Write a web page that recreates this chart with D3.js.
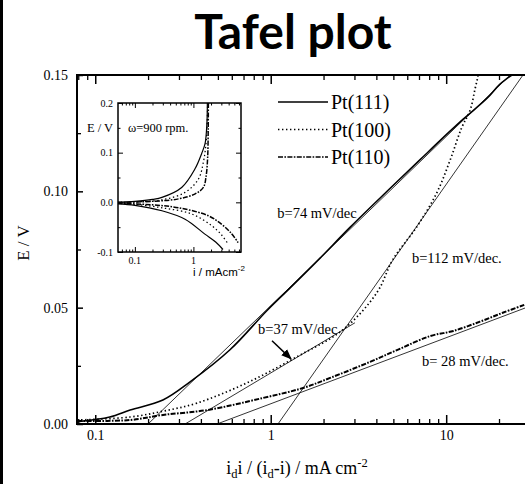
<!DOCTYPE html>
<html>
<head>
<meta charset="utf-8">
<script src="https://cdn.jsdelivr.net/npm/d3@7"></script>
<style>
  body { margin: 0; background: #fff; }
  svg { display: block; }
  .serif { font-family: "Liberation Serif", "DejaVu Serif", serif; }
</style>
</head>
<body>
<svg id="chart" width="525" height="484"></svg>
<script>
// main plot: Tafel data, E / V against i_d i/(i_d - i) in mA cm-2
var pt111_i = [0.079, 0.121, 0.158, 0.243, 0.347, 0.586, 0.953, 1.29, 1.91, 2.83, 4.78, 7.08, 9.22, 12.5, 17.1, 20.2, 23.7];
var pt111_E = [0.001, 0.003, 0.006, 0.0103, 0.0181, 0.0319, 0.0488, 0.0585, 0.0713, 0.0845, 0.1012, 0.1135, 0.1218, 0.131, 0.140, 0.146, 0.150];

var pt100_i = [0.079, 0.158, 0.243, 0.381, 0.733, 1.41, 2.58, 4.03, 4.97, 6.82, 8.87, 10.6, 12.2, 13.7, 14.6, 15.2, 15.6];
var pt100_E = [0.0017, 0.003, 0.0055, 0.009, 0.0177, 0.0289, 0.0405, 0.0565, 0.0707, 0.0849, 0.0996, 0.114, 0.127, 0.135, 0.144, 0.150, 0.158];

var pt110_i = [0.079, 0.158, 0.243, 0.435, 0.904, 1.53, 2.18, 3.68, 5.4, 8.11, 11.0, 15.6, 21.0, 28.1];
var pt110_E = [0.0013, 0.0017, 0.0039, 0.006, 0.0112, 0.0155, 0.0198, 0.0267, 0.0322, 0.0378, 0.0400, 0.0440, 0.0478, 0.0513];

// Tafel fit lines, [start, end] as [i, E]
var fit74 = [[0.200, 0.0], [23.1, 0.150]];
var fit112 = [[1.10, 0.0], [27.4, 0.150]];
var fit37 = [[0.325, 0.0], [3.02, 0.0435]];
var fit28 = [[0.494, 0.0], [28.5, 0.0500]];

var xTicks = [0.1, 1, 10];
var xTickLabels = ["0.1", "1", "10"];
var yTicks = [0, 0.05, 0.10, 0.15];
var yTickLabels = ["0.00", "0.05", "0.10", "0.15"];

var legendNames = ["Pt(111)", "Pt(100)", "Pt(110)"];

// annotations, anchored at [i, E]
var notes = [
  {text: "b=74 mV/dec", at: [1.09, 0.0884]},
  {text: "b=112 mV/dec.", at: [6.38, 0.0694]},
  {text: "b=37 mV/dec", at: [0.846, 0.0388]},
  {text: "b= 28 mV/dec.", at: [7.28, 0.0250]}
];
var arrow37 = [[1.017, 0.0358], [1.305, 0.0280]];

// inset: polarisation curves at 900 rpm, E / V against i / mA cm-2
var in111a_i = [0.05, 0.1, 0.2, 0.29, 0.63, 1.07, 1.38, 1.58, 1.70, 1.73];
var in111a_E = [0.0, 0.002, 0.006, 0.010, 0.030, 0.068, 0.098, 0.118, 0.159, 0.200];
var in100a_i = [0.05, 0.1, 0.29, 0.72, 1.22, 1.48, 1.64, 1.72, 1.75];
var in100a_E = [0.0, 0.001, 0.005, 0.020, 0.047, 0.081, 0.118, 0.160, 0.200];
var in110a_i = [0.05, 0.2, 0.56, 1.07, 1.48, 1.64, 1.75, 1.79, 1.80];
var in110a_E = [0.0, 0.002, 0.007, 0.017, 0.030, 0.051, 0.090, 0.150, 0.200];
var in111c_i = [0.05, 0.1, 0.29, 0.72, 1.57, 2.4, 3.2];
var in111c_E = [-0.003, -0.006, -0.017, -0.034, -0.064, -0.080, -0.095];
var in100c_i = [0.05, 0.1, 0.29, 0.94, 2.05, 3.0, 3.92];
var in100c_E = [-0.002, -0.004, -0.011, -0.0236, -0.047, -0.065, -0.084];
var in110c_i = [0.05, 0.2, 0.56, 1.80, 3.02, 4.4, 5.8];
var in110c_E = [-0.002, -0.005, -0.011, -0.027, -0.044, -0.062, -0.081];

var inXTicks = [0.1, 1];
var inXTickLabels = ["0.1", "1"];
var inYTicks = [-0.1, 0.0, 0.1, 0.2];
var inYTickLabels = ["-0.1", "0.0", "0.1", "0.2"];

var styles = {
  solid: {dash: null, width: 1.6},
  dot: {dash: "1.4,2.6", width: 1.7},
  dashdot: {dash: "5,1.4,1.6,1.4", width: 2}
};

var svg = d3.select("#chart");

// dark strip at the left edge of the slide
svg.append("rect").attr("x", 0).attr("y", 0).attr("width", 3).attr("height", 484).attr("fill", "#000");

svg.append("text")
  .attr("x", 293).attr("y", 49)
  .attr("text-anchor", "middle")
  .style("font-family", "Lato, 'Open Sans', sans-serif")
  .style("font-weight", "bold")
  .style("font-size", "48px")
  .text("Tafel plot");

var L = 77, T = 75, R = 526, B = 424;
var x = d3.scaleLog().domain([0.0787, 28.5]).range([L, R]);
var y = d3.scaleLinear().domain([0, 0.15]).range([B, T]);

svg.append("clipPath").attr("id", "clipMain")
  .append("rect").attr("x", L).attr("y", T).attr("width", R - L).attr("height", B - T);

var plot = svg.append("g").attr("clip-path", "url(#clipMain)");

function pairs(xs, ys, sx, sy) {
  return xs.map(function(v, k) { return [sx(v), sy(ys[k])]; });
}

// fit lines
[fit74, fit112, fit37, fit28].forEach(function(f) {
  plot.append("line")
    .attr("x1", x(f[0][0])).attr("y1", y(f[0][1]))
    .attr("x2", x(f[1][0])).attr("y2", y(f[1][1]))
    .attr("stroke", "#000").attr("stroke-width", 0.8);
});

var series = [
  [pt111_i, pt111_E, styles.solid],
  [pt100_i, pt100_E, styles.dot],
  [pt110_i, pt110_E, styles.dashdot]
];
series.forEach(function(s) {
  plot.append("path")
    .attr("d", d3.line().curve(d3.curveCatmullRom)(pairs(s[0], s[1], x, y)))
    .attr("fill", "none").attr("stroke", "#000")
    .attr("stroke-width", s[2].width)
    .attr("stroke-dasharray", s[2].dash);
});

// axes frame
var axisG = svg.append("g").attr("stroke", "#000");
axisG.append("line").attr("x1", L).attr("x2", R).attr("y1", B).attr("y2", B).attr("stroke-width", 2);
axisG.append("line").attr("x1", L).attr("x2", R).attr("y1", T).attr("y2", T).attr("stroke-width", 2);
axisG.append("line").attr("x1", L).attr("x2", L).attr("y1", T - 1).attr("y2", B + 1).attr("stroke-width", 2);

// x ticks, inward at bottom and top
var xMinor = x.ticks().filter(function(v) { return xTicks.indexOf(v) < 0; });
svg.append("g")
  .attr("transform", "translate(0," + B + ")")
  .call(d3.axisBottom(x).tickValues(xMinor).tickSize(-5).tickFormat(""))
  .call(function(g) { g.select(".domain").remove(); g.selectAll("line").attr("stroke-width", 1.3); });
svg.append("g")
  .attr("transform", "translate(0," + B + ")")
  .call(d3.axisBottom(x).tickValues(xTicks).tickSize(-9).tickPadding(6).tickFormat(function(d, k) { return xTickLabels[k]; }))
  .call(function(g) {
    g.select(".domain").remove();
    g.selectAll("line").attr("stroke-width", 1.5);
    g.selectAll("text").attr("class", "serif").style("font-size", "14px").attr("fill", "#000");
  });
svg.append("g")
  .attr("transform", "translate(0," + T + ")")
  .call(d3.axisTop(x).tickValues(xMinor).tickSize(-5).tickFormat(""))
  .call(function(g) { g.select(".domain").remove(); g.selectAll("line").attr("stroke-width", 1.3); });
svg.append("g")
  .attr("transform", "translate(0," + T + ")")
  .call(d3.axisTop(x).tickValues(xTicks).tickSize(-9).tickFormat(""))
  .call(function(g) { g.select(".domain").remove(); g.selectAll("line").attr("stroke-width", 1.5); });

// y ticks
svg.append("g")
  .attr("transform", "translate(" + L + ",0)")
  .call(d3.axisLeft(y).tickValues([0.025, 0.075, 0.125]).tickSize(-4).tickFormat(""))
  .call(function(g) { g.select(".domain").remove(); g.selectAll("line").attr("stroke-width", 1.3); });
svg.append("g")
  .attr("transform", "translate(" + L + ",0)")
  .call(d3.axisLeft(y).tickValues(yTicks).tickSize(-6).tickPadding(9).tickFormat(function(d, k) { return yTickLabels[k]; }))
  .call(function(g) {
    g.select(".domain").remove();
    g.selectAll("line").attr("stroke-width", 1.5);
    g.selectAll("text").attr("class", "serif").style("font-size", "14px").attr("fill", "#000");
  });

// axis titles
svg.append("text").attr("class", "serif")
  .attr("transform", "translate(29,243) rotate(-90)")
  .attr("text-anchor", "middle")
  .style("font-size", "17px")
  .text("E / V");

var xt = svg.append("text").attr("class", "serif")
  .attr("x", 297).attr("y", 474)
  .attr("text-anchor", "middle")
  .style("font-size", "18px");
xt.append("tspan").text("i");
xt.append("tspan").attr("dy", 4).style("font-size", "12.5px").text("d");
xt.append("tspan").attr("dy", -4).text("i / (i");
xt.append("tspan").attr("dy", 4).style("font-size", "12.5px").text("d");
xt.append("tspan").attr("dy", -4).text("-i) / mA cm");
xt.append("tspan").attr("dy", -7).style("font-size", "12.5px").text("-2");

// annotations
notes.forEach(function(n) {
  svg.append("text").attr("class", "serif")
    .attr("x", x(n.at[0])).attr("y", y(n.at[1]))
    .style("font-size", "14.5px")
    .text(n.text);
});
svg.append("defs").append("marker")
  .attr("id", "head").attr("viewBox", "0 0 10 10")
  .attr("refX", 9).attr("refY", 5)
  .attr("markerWidth", 7).attr("markerHeight", 7)
  .attr("orient", "auto")
  .append("path").attr("d", "M0,1 L10,5 L0,9 Z").attr("fill", "#000");
svg.append("line")
  .attr("x1", x(arrow37[0][0])).attr("y1", y(arrow37[0][1]))
  .attr("x2", x(arrow37[1][0])).attr("y2", y(arrow37[1][1]))
  .attr("stroke", "#000").attr("stroke-width", 1.5)
  .attr("marker-end", "url(#head)");

// legend
var legendStyles = [styles.solid, styles.dot, styles.dashdot];
legendNames.forEach(function(name, k) {
  var ly = 102 + k * 27.5;
  svg.append("line")
    .attr("x1", 278).attr("x2", 328).attr("y1", ly).attr("y2", ly)
    .attr("stroke", "#000")
    .attr("stroke-width", legendStyles[k].width * 0.8)
    .attr("stroke-dasharray", legendStyles[k].dash);
  svg.append("text").attr("class", "serif")
    .attr("x", 331).attr("y", ly).attr("dy", "0.35em")
    .style("font-size", "20px")
    .text(name);
});

// inset
var iL = 118, iR = 241, iT = 103, iB = 252;
var ix = d3.scaleLog().domain([0.0515, 6.5]).range([iL, iR]);
var iy = d3.scaleLinear().domain([-0.1, 0.2]).range([iB, iT]);

svg.append("rect").attr("x", iL).attr("y", iT).attr("width", iR - iL).attr("height", iB - iT)
  .attr("fill", "#fff").attr("stroke", "#000").attr("stroke-width", 1.5);

svg.append("clipPath").attr("id", "clipInset")
  .append("rect").attr("x", iL).attr("y", iT).attr("width", iR - iL).attr("height", iB - iT);
var inset = svg.append("g").attr("clip-path", "url(#clipInset)");

var insetSeries = [
  [in111a_i, in111a_E, styles.solid], [in111c_i, in111c_E, styles.solid],
  [in100a_i, in100a_E, styles.dot], [in100c_i, in100c_E, styles.dot],
  [in110a_i, in110a_E, styles.dashdot], [in110c_i, in110c_E, styles.dashdot]
];
insetSeries.forEach(function(s) {
  inset.append("path")
    .attr("d", d3.line().curve(d3.curveCatmullRom)(pairs(s[0], s[1], ix, iy)))
    .attr("fill", "none").attr("stroke", "#000")
    .attr("stroke-width", s[2].width * 0.75)
    .attr("stroke-dasharray", s[2].dash);
});

var inXMinor = ix.ticks().filter(function(v) { return inXTicks.indexOf(v) < 0; });
[[iB, d3.axisBottom], [iT, d3.axisTop]].forEach(function(p) {
  svg.append("g").attr("transform", "translate(0," + p[0] + ")")
    .call(p[1](ix).tickValues(inXMinor).tickSize(-2.5).tickFormat(""))
    .call(function(g) { g.select(".domain").remove(); });
  svg.append("g").attr("transform", "translate(0," + p[0] + ")")
    .call(p[1](ix).tickValues(inXTicks).tickSize(-5).tickFormat(""))
    .call(function(g) { g.select(".domain").remove(); });
});
[[iL, d3.axisLeft], [iR, d3.axisRight]].forEach(function(p) {
  svg.append("g").attr("transform", "translate(" + p[0] + ",0)")
    .call(p[1](iy).tickValues([-0.05, 0.05, 0.15]).tickSize(-2.5).tickFormat(""))
    .call(function(g) { g.select(".domain").remove(); });
  svg.append("g").attr("transform", "translate(" + p[0] + ",0)")
    .call(p[1](iy).tickValues(inYTicks).tickSize(-5).tickFormat(""))
    .call(function(g) { g.select(".domain").remove(); });
});
inYTicks.forEach(function(v, k) {
  svg.append("text").attr("class", "serif")
    .attr("x", iL - 5).attr("y", iy(v)).attr("dy", "0.35em")
    .attr("text-anchor", "end").style("font-size", "10px")
    .text(inYTickLabels[k]);
});
inXTicks.forEach(function(v, k) {
  svg.append("text").attr("class", "serif")
    .attr("x", ix(v)).attr("y", 264)
    .attr("text-anchor", "middle").style("font-size", "10px")
    .text(inXTickLabels[k]);
});
svg.append("text").attr("class", "serif")
  .attr("x", 100).attr("y", 128).attr("dy", "0.35em")
  .attr("text-anchor", "middle").style("font-size", "12.5px")
  .text("E / V");
svg.append("text").attr("class", "serif")
  .attr("x", 128).attr("y", 128).attr("dy", "0.35em")
  .style("font-size", "12.5px")
  .text("\u03c9=900 rpm.");
var ixt = svg.append("text").attr("class", "serif")
  .attr("x", 193).attr("y", 276)
  .style("font-family", "'Liberation Sans', Arial, sans-serif")
  .style("font-size", "11.5px");
ixt.append("tspan").text("i / mAcm");
ixt.append("tspan").attr("dy", -5).style("font-size", "8px").text("-2");
</script>
</body>
</html>
